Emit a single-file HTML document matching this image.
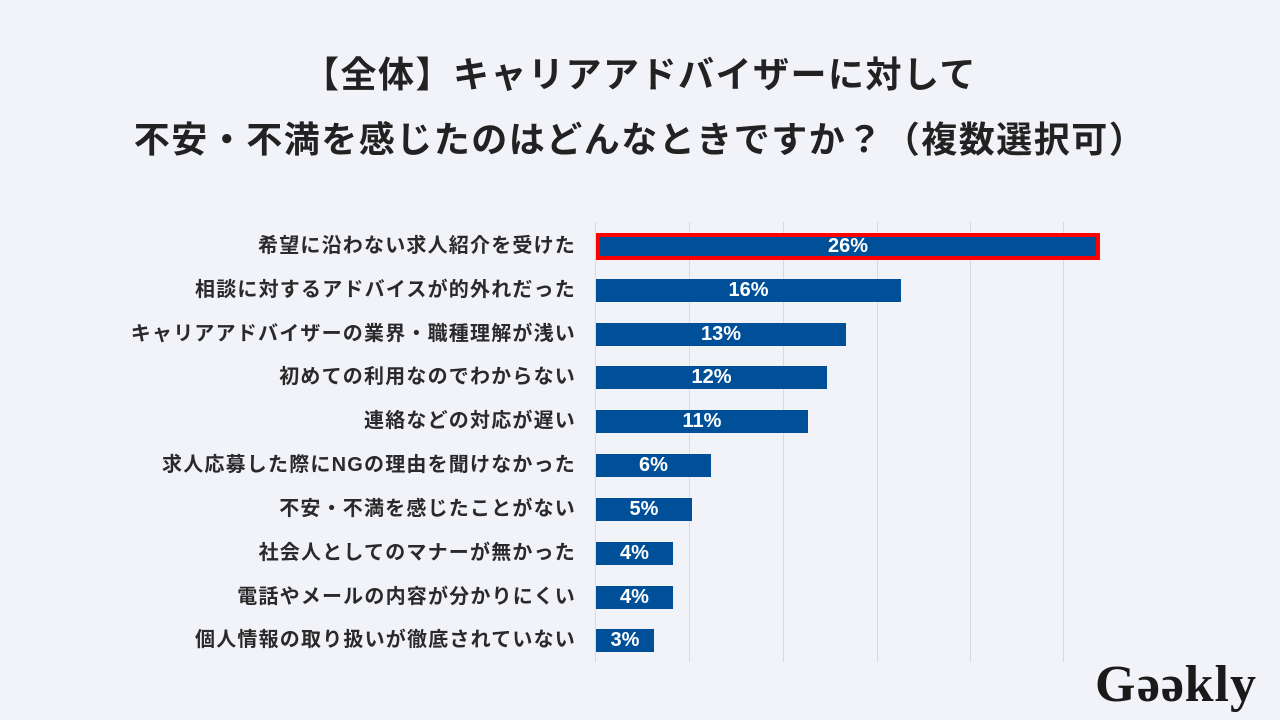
<!DOCTYPE html>
<html><head><meta charset="utf-8"><style>
body{margin:0;width:1280px;height:720px;background:#f2f3f8;position:relative;overflow:hidden;font-family:"Liberation Sans","Noto Sans CJK JP",sans-serif;color:#222}
.t{position:absolute;left:0;width:1280px;text-align:center;font-size:36px;font-weight:bold;line-height:40px;letter-spacing:1.5px}
.g{position:absolute;top:222px;height:440px;width:1px;background:#d9dadf}
.l{position:absolute;right:704px;font-size:20px;font-weight:bold;line-height:24px;white-space:nowrap;color:#2a2a2a;letter-spacing:1.2px}
.b{position:absolute;left:596px;height:23px;background:#004f99;color:#fff;font-weight:bold;font-size:20px;line-height:23px;text-align:center}
.logo{position:absolute;left:1095px;top:655px;font-family:"Liberation Serif","DejaVu Serif",serif;font-weight:bold;font-size:52px;color:#1a1a1a;letter-spacing:1px}
</style></head><body>
<div class="t" style="top:55px">【全体】キャリアアドバイザーに対して</div>
<div class="t" style="top:120px">不安・不満を感じたのはどんなときですか？（複数選択可）</div>
<div class="g" style="left:595px"></div><div class="g" style="left:689px"></div><div class="g" style="left:783px"></div><div class="g" style="left:877px"></div><div class="g" style="left:970px"></div><div class="g" style="left:1063px"></div>

<div class="l" style="top:234px">希望に沿わない求人紹介を受けた</div>
<div class="b" style="left:596px;width:496px;height:19px;line-height:19px;border:4px solid #f00;top:233px">26%</div>
<div class="l" style="top:278px">相談に対するアドバイスが的外れだった</div>
<div class="b" style="top:279px;width:305px">16%</div>
<div class="l" style="top:322px">キャリアアドバイザーの業界・職種理解が浅い</div>
<div class="b" style="top:323px;width:250px">13%</div>
<div class="l" style="top:365px">初めての利用なのでわからない</div>
<div class="b" style="top:366px;width:231px">12%</div>
<div class="l" style="top:409px">連絡などの対応が遅い</div>
<div class="b" style="top:410px;width:212px">11%</div>
<div class="l" style="top:453px">求人応募した際にNGの理由を聞けなかった</div>
<div class="b" style="top:454px;width:115px">6%</div>
<div class="l" style="top:497px">不安・不満を感じたことがない</div>
<div class="b" style="top:498px;width:96px">5%</div>
<div class="l" style="top:541px">社会人としてのマナーが無かった</div>
<div class="b" style="top:542px;width:77px">4%</div>
<div class="l" style="top:585px">電話やメールの内容が分かりにくい</div>
<div class="b" style="top:586px;width:77px">4%</div>
<div class="l" style="top:628px">個人情報の取り扱いが徹底されていない</div>
<div class="b" style="top:629px;width:58px">3%</div>
<div class="logo">Gǝǝkly</div>
</body></html>
